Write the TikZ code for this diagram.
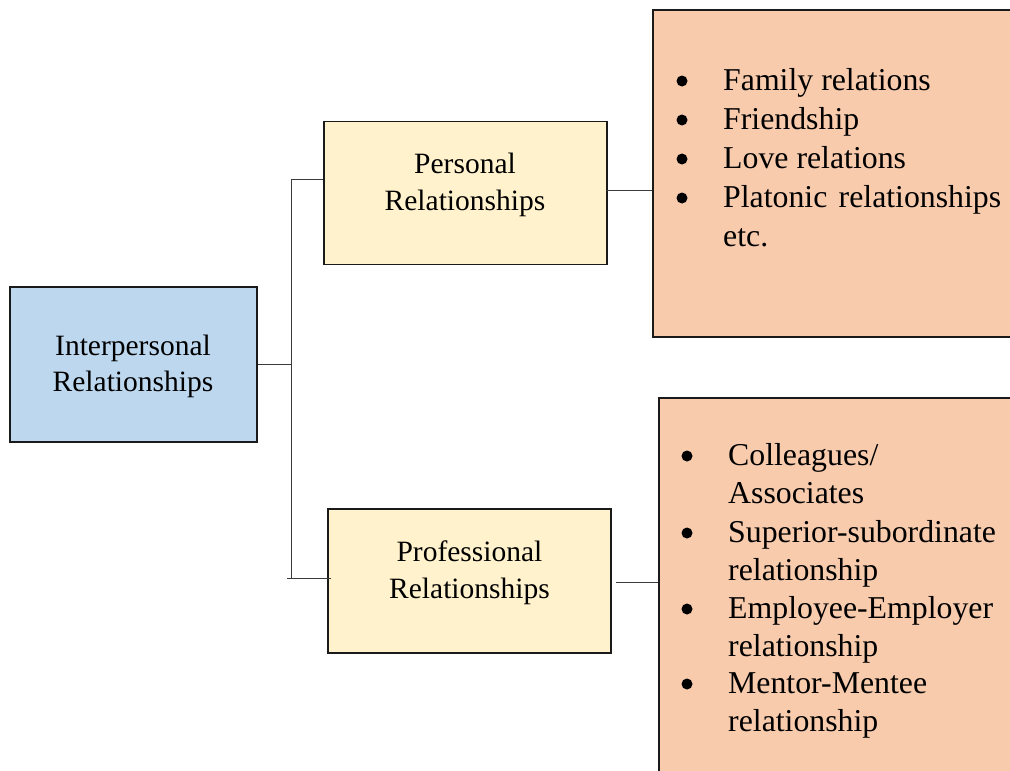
\documentclass[tikz,border=0pt]{standalone}
\usepackage{fontspec}
\setmainfont{Liberation Serif}
\definecolor{rootblue}{HTML}{BDD7EE}
\definecolor{branchyellow}{HTML}{FFF2CC}
\definecolor{listorange}{HTML}{F8CBAD}
\definecolor{edgeink}{HTML}{1A1A1A}
\definecolor{wireink}{HTML}{3A3A3A}
\tikzset{
  boxshape/.style={draw=edgeink, line width=1.6pt, rectangle, inner sep=0pt},
  rootbox/.style={boxshape, fill=rootblue},
  branchbox/.style={boxshape, fill=branchyellow},
  listbox/.style={boxshape, fill=listorange},
  wire/.style={draw=wireink, line width=1pt},
  boxtext/.style={anchor=base, inner sep=0pt, font=\fontsize{29.5}{36}\selectfont},
  itemtext/.style={anchor=base west, inner sep=0pt, font=\fontsize{31.8}{39}\selectfont},
  bulletmark/.style={circle, fill=black, inner sep=0pt, minimum size=11pt},
}
\begin{document}
\begin{tikzpicture}[x=1pt, y=-1pt]
\useasboundingbox (0,0) rectangle (1010,771);
\clip (0,0) rectangle (1010,771);

% boxes (the two list panels run past the right and bottom edges)
\node[rootbox, minimum width=247pt, minimum height=155pt] (root) at (133.5,364.5) {};
\node[branchbox, minimum width=283pt, minimum height=143pt] (pers) at (465.5,193) {};
\node[branchbox, minimum width=283pt, minimum height=144pt] (prof) at (469.5,581) {};
\node[listbox, minimum width=370pt, minimum height=327pt] (perslist) at (838,173.5) {};
\node[listbox, minimum width=364pt, minimum height=390pt] (proflist) at (841,593) {};

% box captions
\node[boxtext] (rootA) at (133,355) {Interpersonal};
\node[boxtext] (rootB) at (133,391) {Relationships};
\node[boxtext] (persA) at (465,173) {Personal};
\node[boxtext] (persB) at (465,210) {Relationships};
\node[boxtext] (profA) at (469.5,561) {Professional};
\node[boxtext] (profB) at (469.5,598) {Relationships};

% personal relationships list
\foreach \yy [count=\i] in {90,129,168,207}
  \node[bulletmark] (pb\i) at (682,\yy-9) {};
\node[itemtext] (p1) at (723,90) {Family relations};
\node[itemtext] (p2) at (723,129) {Friendship};
\node[itemtext] (p3) at (723,168) {Love relations};
\node[itemtext] (p4) at (723,207) {\makebox[278pt][s]{Platonic relationships}};
\node[itemtext] (p5) at (723,246) {etc.};

% professional relationships list
\foreach \yy [count=\i] in {465,542,618,693}
  \node[bulletmark] (qb\i) at (687,\yy-9) {};
\node[itemtext] (q1) at (728,465) {Colleagues/};
\node[itemtext] (q2) at (728,503) {Associates};
\node[itemtext] (q3) at (728,542) {Superior-subordinate};
\node[itemtext] (q4) at (728,580) {relationship};
\node[itemtext] (q5) at (728,618) {Employee-Employer};
\node[itemtext] (q6) at (728,656) {relationship};
\node[itemtext] (q7) at (728,693) {Mentor-Mentee};
\node[itemtext] (q8) at (728,731) {relationship};

% bracket connectors
\coordinate (spineTop) at (291,179);
\coordinate (spineBot) at (291,578);
\coordinate (spineLeft) at (287,578);
\path[wire] (root.east) -- (root.east -| spineTop);
\path[wire] (spineTop) -- (spineBot);
\path[wire] (spineTop) -- (spineTop -| pers.west);
\path[wire] (spineLeft) -- ([xshift=4pt]spineLeft -| prof.west);

% links to the lists
\path[wire] ([xshift=-2pt,yshift=3pt]pers.east) -- ([yshift=3pt]pers.east -| perslist.west);
\path[wire] ([xshift=4pt,yshift=-1pt]prof.east) -- ([yshift=-1pt]prof.east -| proflist.west);
\end{tikzpicture}
\end{document}
